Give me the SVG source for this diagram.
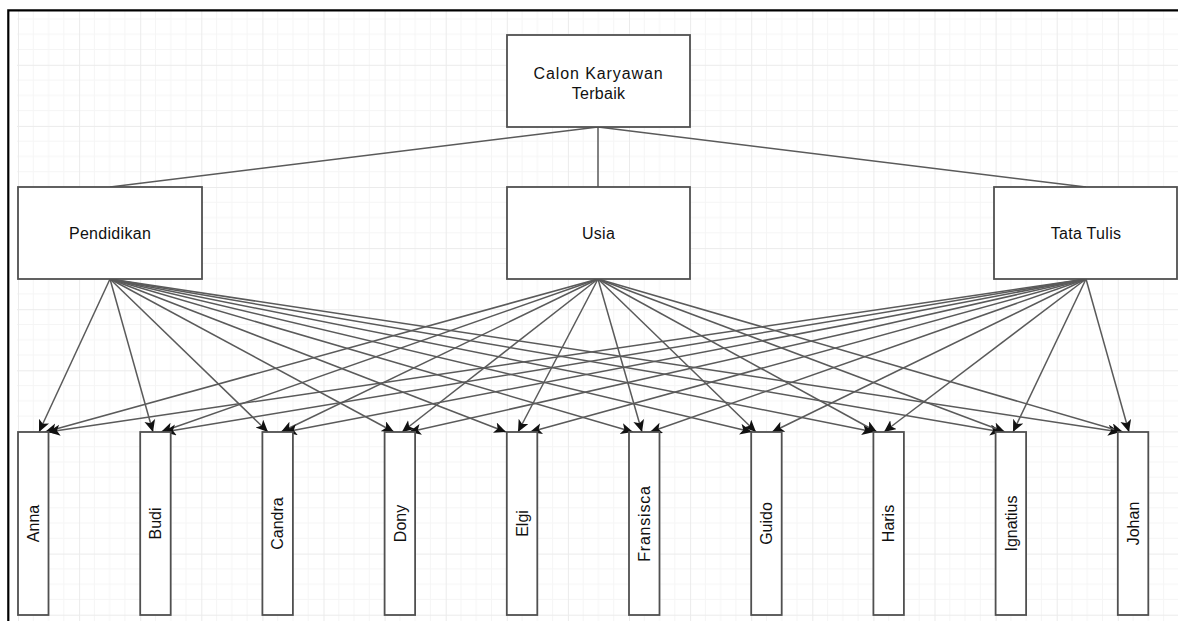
<svg xmlns="http://www.w3.org/2000/svg" width="1178" height="621" viewBox="0 0 1178 621">
<style>
.box{fill:#ffffff;stroke:#505050;stroke-width:1.8}
.lbl{font-family:"Liberation Sans",Arial,sans-serif;font-size:16px;fill:#111;text-anchor:middle}
.edge{stroke:#5a5a5a;stroke-width:1.5;fill:none}
.arr{stroke:#5a5a5a;stroke-width:1.5;fill:none;marker-end:url(#ah)}
</style>
<defs>
<pattern id="grid" patternUnits="userSpaceOnUse" x="18" y="3.7" width="61.1" height="61.1">
<path d="M15.275,0V61.1M30.55,0V61.1M45.825,0V61.1M0,15.275H61.1M0,30.55H61.1M0,45.825H61.1" stroke="#f5f5f5" stroke-width="1" fill="none"/>
<path d="M0.5,0V61.1M0,0.5H61.1" stroke="#ebebeb" stroke-width="1" fill="none"/>
</pattern>
<marker id="ah" markerUnits="userSpaceOnUse" markerWidth="13" markerHeight="12" refX="12" refY="5.5" orient="auto">
<path d="M0,0 L12,5.5 L0,11 L3,5.5 Z" fill="#111"/>
</marker>
</defs>
<rect x="0" y="0" width="1178" height="621" fill="#ffffff"/>
<rect x="17" y="11" width="1161" height="610" fill="url(#grid)"/>
<path d="M8.3,621V10.3H1178" stroke="#000" stroke-width="2.2" fill="none"/>

<g id="connectors">
<line class="edge" x1="598" y1="127" x2="110" y2="187"/>
<line class="edge" x1="598" y1="127" x2="598" y2="187"/>
<line class="edge" x1="598" y1="127" x2="1086" y2="187"/>

<line class="arr" x1="110" y1="279" x2="39" y2="432"/>
<line class="arr" x1="110" y1="279" x2="153" y2="432"/>
<line class="arr" x1="110" y1="279" x2="268" y2="432"/>
<line class="arr" x1="110" y1="279" x2="394" y2="432"/>
<line class="arr" x1="110" y1="279" x2="506" y2="432"/>
<line class="arr" x1="110" y1="279" x2="633" y2="432"/>
<line class="arr" x1="110" y1="279" x2="752" y2="432"/>
<line class="arr" x1="110" y1="279" x2="874" y2="432"/>
<line class="arr" x1="110" y1="279" x2="1002" y2="432"/>
<line class="arr" x1="110" y1="279" x2="1120" y2="432"/>

<line class="arr" x1="598" y1="279" x2="45" y2="432"/>
<line class="arr" x1="598" y1="279" x2="161" y2="432"/>
<line class="arr" x1="598" y1="279" x2="281" y2="432"/>
<line class="arr" x1="598" y1="279" x2="402" y2="432"/>
<line class="arr" x1="598" y1="279" x2="518" y2="432"/>
<line class="arr" x1="598" y1="279" x2="642" y2="432"/>
<line class="arr" x1="598" y1="279" x2="756" y2="432"/>
<line class="arr" x1="598" y1="279" x2="877" y2="432"/>
<line class="arr" x1="598" y1="279" x2="1005" y2="432"/>
<line class="arr" x1="598" y1="279" x2="1123" y2="432"/>

<line class="arr" x1="1086" y1="279" x2="48" y2="432"/>
<line class="arr" x1="1086" y1="279" x2="164" y2="432"/>
<line class="arr" x1="1086" y1="279" x2="285" y2="432"/>
<line class="arr" x1="1086" y1="279" x2="409" y2="432"/>
<line class="arr" x1="1086" y1="279" x2="530" y2="432"/>
<line class="arr" x1="1086" y1="279" x2="650" y2="432"/>
<line class="arr" x1="1086" y1="279" x2="772" y2="432"/>
<line class="arr" x1="1086" y1="279" x2="884" y2="432"/>
<line class="arr" x1="1086" y1="279" x2="1013" y2="432"/>
<line class="arr" x1="1086" y1="279" x2="1129" y2="432"/>
</g>

<g id="goal">
<rect class="box" x="507" y="35" width="183" height="92"/>
<text class="lbl" x="598.5" y="79" letter-spacing="0.9">Calon Karyawan</text>
<text class="lbl" x="598.5" y="99" letter-spacing="0.3">Terbaik</text>
</g>

<g id="pendidikan">
<rect class="box" x="18" y="187" width="184" height="92"/>
<text class="lbl" x="110" y="239" letter-spacing="0.3">Pendidikan</text>
</g>
<g id="usia">
<rect class="box" x="507" y="187" width="183" height="92"/>
<text class="lbl" x="598.5" y="239" letter-spacing="0.3">Usia</text>
</g>
<g id="tatatulis">
<rect class="box" x="994" y="187" width="183" height="92"/>
<text class="lbl" x="1086" y="239" letter-spacing="0.3">Tata Tulis</text>
</g>

<g id="anna"><rect class="box" x="18" y="432" width="30.5" height="183"/><text class="lbl" transform="translate(39,523.5) rotate(-90)">Anna</text></g>
<g id="budi"><rect class="box" x="140.2" y="432" width="30.5" height="183"/><text class="lbl" transform="translate(161.2,523.5) rotate(-90)">Budi</text></g>
<g id="candra"><rect class="box" x="262.4" y="432" width="30.5" height="183"/><text class="lbl" transform="translate(283.4,523.5) rotate(-90)">Candra</text></g>
<g id="dony"><rect class="box" x="384.6" y="432" width="30.5" height="183"/><text class="lbl" transform="translate(405.6,523.5) rotate(-90)">Dony</text></g>
<g id="elgi"><rect class="box" x="506.8" y="432" width="30.5" height="183"/><text class="lbl" transform="translate(527.8,523.5) rotate(-90)">Elgi</text></g>
<g id="fransisca"><rect class="box" x="629" y="432" width="30.5" height="183"/><text class="lbl" transform="translate(650,523.5) rotate(-90)" letter-spacing="0.8">Fransisca</text></g>
<g id="guido"><rect class="box" x="751.2" y="432" width="30.5" height="183"/><text class="lbl" transform="translate(772.2,523.5) rotate(-90)">Guido</text></g>
<g id="haris"><rect class="box" x="873.4" y="432" width="30.5" height="183"/><text class="lbl" transform="translate(894.4,523.5) rotate(-90)">Haris</text></g>
<g id="ignatius"><rect class="box" x="995.6" y="432" width="30.5" height="183"/><text class="lbl" transform="translate(1016.6,523.5) rotate(-90)">Ignatius</text></g>
<g id="johan"><rect class="box" x="1117.8" y="432" width="30.5" height="183"/><text class="lbl" transform="translate(1138.8,523.5) rotate(-90)">Johan</text></g>
</svg>
